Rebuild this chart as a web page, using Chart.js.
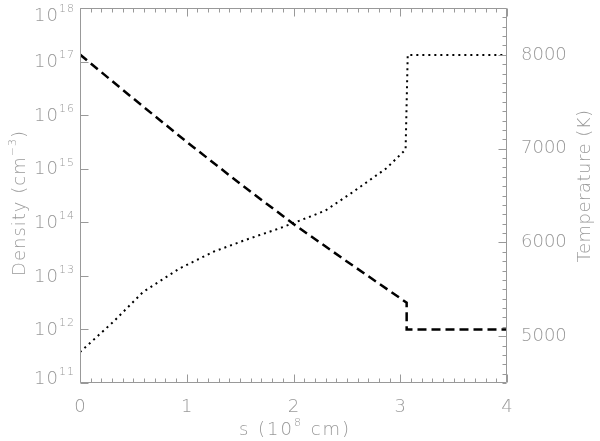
<!DOCTYPE html>
<html>
<head>
<meta charset="utf-8">
<script src="https://cdn.jsdelivr.net/npm/chart.js@4.4.0/dist/chart.umd.min.js"></script>
<style>
  html, body { margin: 0; padding: 0; background: #fff; }
  #wrap { width: 600px; height: 441px; position: relative; }
</style>
</head>
<body>
<div id="wrap"><canvas id="grafico"></canvas></div>
<script>
// density profile (dashed, left log axis)
var sDensity = [0, 0.5, 1.0, 1.5, 2.0, 2.5, 3.06, 3.06, 4.0];
var density = [1.35e17, 2.04e16, 3.16e15, 5.25e14, 9.3e13, 1.86e13, 3.16e12, 1.0e12, 1.0e12];

// temperature profile (dotted, right axis)
var sTemp = [0, 0.31, 0.59, 0.93, 1.25, 1.56, 1.87, 2.19, 2.3, 2.56, 2.87, 3.05, 3.07, 4.0];
var temperature = [4830, 5150, 5470, 5720, 5900, 6030, 6150, 6290, 6340, 6540, 6790, 6990, 8000, 8000];

// tick labels
var xTicks = [0, 1, 2, 3, 4];
var tempTicks = [5000, 6000, 7000, 8000];
var densityExponents = [11, 12, 13, 14, 15, 16, 17, 18];

var GREY = '#999';
var FONT = "'DejaVu Sans', sans-serif";

function toPoints(xs, ys) {
    return xs.map(function (x, i) { return { x: x, y: ys[i] }; });
}

function drawParts(ctx, parts, x, y, align, spacing) {
    ctx.letterSpacing = (spacing || 0) + 'px';
    var widths = parts.map(function (p) {
        ctx.font = '200 ' + (p[1] ? 11 : 18) + 'px ' + FONT;
        return ctx.measureText(p[0]).width;
    });
    var total = widths.reduce(function (a, b) { return a + b; }, 0);
    var cx = align === 'center' ? x - total / 2 : (align === 'right' ? x - total : x);
    ctx.textAlign = 'left';
    ctx.textBaseline = 'middle';
    parts.forEach(function (p, i) {
        ctx.font = '200 ' + (p[1] ? 11 : 18) + 'px ' + FONT;
        ctx.fillText(p[0], cx, p[1] ? y - 7 : y);
        cx += widths[i];
    });
    ctx.letterSpacing = '0px';
}

var frame = {
    id: 'frame',
    afterDraw: function (chart) {
        var ctx = chart.ctx;
        var a = chart.chartArea;
        var sx = chart.scales.x, sd = chart.scales.yDen, st = chart.scales.yTemp;
        ctx.save();
        ctx.strokeStyle = GREY;
        ctx.lineWidth = 1;
        ctx.beginPath();
        var L = Math.round(a.left) + 0.5, R = Math.round(a.right) - 0.5;
        var T = Math.round(a.top) + 0.5, B = Math.round(a.bottom) - 0.5;
        ctx.rect(L, T, R - L, B - T);
        var i, p, len;
        for (i = 0; i <= 40; i++) {
            p = Math.round(sx.getPixelForValue(i / 10)) + 0.5;
            len = i % 10 === 0 ? 8 : 4;
            ctx.moveTo(p, B); ctx.lineTo(p, B - len);
            ctx.moveTo(p, T); ctx.lineTo(p, T + len);
        }
        densityExponents.forEach(function (e) {
            p = Math.round(sd.getPixelForValue(Math.pow(10, e))) + 0.5;
            ctx.moveTo(L, p); ctx.lineTo(L + 8, p);
        });
        for (i = 45; i <= 85; i++) {
            p = Math.round(st.getPixelForValue(i * 100)) + 0.5;
            len = i % 10 === 0 ? 8 : 4;
            ctx.moveTo(R, p); ctx.lineTo(R - len, p);
        }
        ctx.stroke();

        ctx.fillStyle = GREY;
        // left log labels 10^n
        densityExponents.forEach(function (e) {
            var y = sd.getPixelForValue(Math.pow(10, e)) + 1;
            y = Math.min(Math.max(y, a.top + 8), a.bottom - 4);
            drawParts(ctx, [['10', false], [String(e), true]], 75, y, 'right', 1);
        });
        // axis titles
        drawParts(ctx, [['s (10', false], ['8', true], [' cm)', false]], 295, 430, 'center', 2);
        ctx.save();
        ctx.translate(20, 203);
        ctx.rotate(-Math.PI / 2);
        drawParts(ctx, [['Density (cm', false], ['\u22123', true], [')', false]], 0, 0, 'center', 1);
        ctx.restore();
        ctx.save();
        ctx.translate(585, 186);
        ctx.rotate(-Math.PI / 2);
        drawParts(ctx, [['Temperature (K)', false]], 0, 0, 'center', 0.5);
        ctx.restore();
        ctx.restore();
    }
};

function noPad(scale) {
    scale.paddingTop = 0; scale.paddingBottom = 0;
    scale.paddingLeft = 0; scale.paddingRight = 0;
}

function plain(v) { return String(v); }

var ctx = document.getElementById('grafico').getContext('2d');
var chart = new Chart(ctx, {
    type: 'line',
    data: {
        datasets: [{
            label: 'Density',
            data: toPoints(sDensity, density),
            yAxisID: 'yDen',
            borderColor: '#000',
            borderWidth: 2.5,
            borderDash: [9, 5],
            pointRadius: 0,
            fill: false,
            tension: 0
        }, {
            label: 'Temperature',
            data: toPoints(sTemp, temperature),
            yAxisID: 'yTemp',
            borderColor: '#000',
            borderWidth: 2,
            borderDash: [2, 4],
            pointRadius: 0,
            fill: false,
            tension: 0
        }]
    },
    options: {
        responsive: true,
        maintainAspectRatio: false,
        devicePixelRatio: 1,
        animation: false,
        layout: { padding: { top: 8, left: 0, right: 0, bottom: 0 } },
        plugins: { legend: { display: false }, tooltip: { enabled: false } },
        scales: {
            x: {
                type: 'linear',
                position: 'bottom',
                min: 0, max: 4,
                grid: { display: false },
                border: { display: false },
                ticks: { color: GREY, font: { family: FONT, size: 18, weight: 200 }, padding: 6, maxRotation: 0, callback: plain },
                afterBuildTicks: function (s) { s.ticks = xTicks.map(function (v) { return { value: v }; }); },
                afterFit: function (s) { s.height = 58; noPad(s); }
            },
            yDen: {
                type: 'logarithmic',
                position: 'left',
                min: 1e11, max: 1e18,
                grid: { display: false },
                border: { display: false },
                ticks: { display: false },
                afterFit: function (s) { s.width = 80; noPad(s); }
            },
            yTemp: {
                type: 'linear',
                position: 'right',
                min: 4500, max: 8500,
                grid: { display: false },
                border: { display: false },
                ticks: { color: GREY, font: { family: FONT, size: 18, weight: 200 }, padding: 6, callback: plain },
                afterBuildTicks: function (s) { s.ticks = tempTicks.map(function (v) { return { value: v }; }); },
                afterFit: function (s) { s.width = 93; noPad(s); }
            }
        }
    },
    plugins: [frame]
});
</script>
</body>
</html>
